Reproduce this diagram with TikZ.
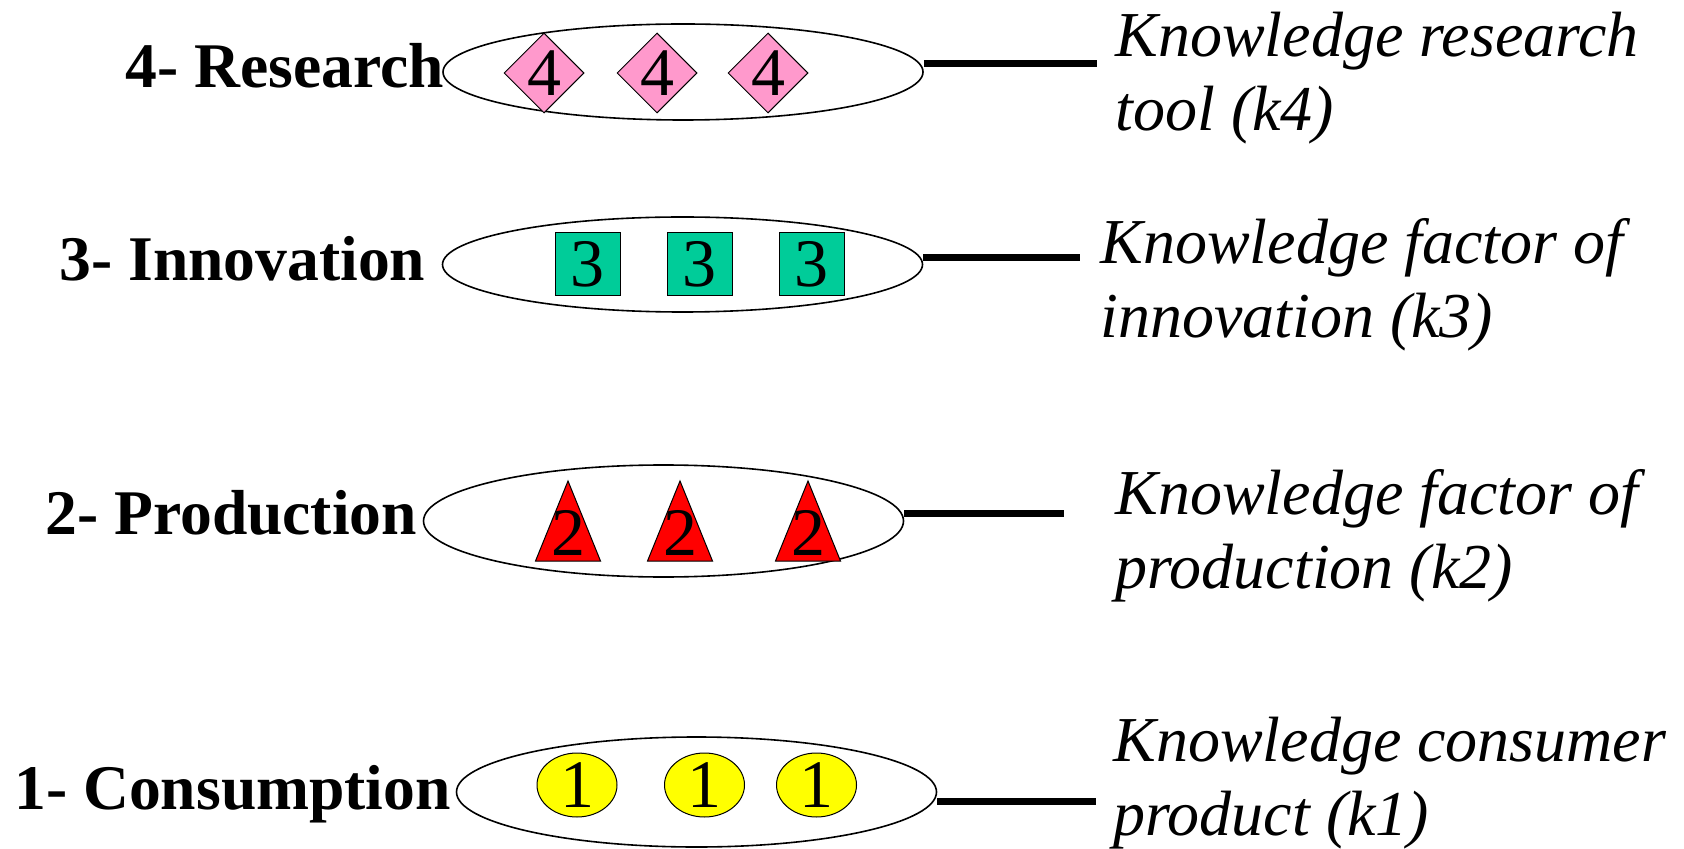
\documentclass[tikz,border=0pt]{standalone}
\usepackage{fontspec}
\setmainfont{Liberation Serif}
\usetikzlibrary{shapes.geometric}
\definecolor{diapink}{HTML}{FF99CC}
\definecolor{sqteal}{HTML}{00CC99}
\definecolor{trired}{HTML}{FF0000}
\definecolor{dotyellow}{HTML}{FFFF00}
\begin{document}
\begin{tikzpicture}[x=0.5pt,y=-0.5pt,
  level/.style={ellipse, draw, line width=0.8pt, inner sep=0pt, minimum width=240pt},
  stage/.style={anchor=base west, inner sep=0pt, font=\fontsize{31.8}{37}\selectfont\bfseries},
  role/.style={anchor=base west, inner sep=0pt, font=\fontsize{32}{37}\selectfont\itshape},
  digit/.style={font=\fontsize{34}{36}\selectfont, inner sep=0pt},
  dia/.style={diamond, draw, line width=0.5pt, fill=diapink, minimum width=40pt, minimum height=40pt, inner sep=0pt},
  sq/.style={rectangle, draw, line width=0.5pt, fill=sqteal, minimum width=32.5pt, minimum height=31.5pt, inner sep=0pt},
  tri/.style={draw, line width=0.5pt, fill=trired, line join=miter},
  dot/.style={ellipse, draw, line width=0.5pt, fill=dotyellow, minimum width=40pt, minimum height=32pt, inner sep=0pt},
  link/.style={line width=3.5pt}
]
\useasboundingbox (0,0) rectangle (1684,849);

% ---- level 4: research ----
\node[level, minimum height=48pt] (e4) at (683,72) {};
\node[dia, label={[digit]center:4}] (d41) at (544,73) {};
\node[dia, label={[digit]center:4}] (d42) at (657,73) {};
\node[dia, label={[digit]center:4}] (d43) at (768,73) {};
\node[stage] (s4) at (125,88) {4- Research};
\node[role] (r4) at (1115,57) {\begin{tabular}[t]{@{}l@{}}Knowledge research\\tool (k4)\end{tabular}};
\coordinate (c4) at (1097,64);
\draw[link] (e4.east |- c4) -- (c4);

% ---- level 3: innovation ----
\node[level, minimum height=47.5pt] (e3) at (682.5,264.5) {};
\node[sq, label={[digit]center:3}] (q31) at (587.5,264.5) {};
\node[sq, label={[digit]center:3}] (q32) at (699.5,264.5) {};
\node[sq, label={[digit]center:3}] (q33) at (811.5,264.5) {};
\node[stage] (s3) at (59,281) {3- Innovation};
\node[role] (r3) at (1100,264) {\begin{tabular}[t]{@{}l@{}}Knowledge factor of\\innovation (k3)\end{tabular}};
\coordinate (c3) at (1080,258);
\draw[link] (e3.east |- c3) -- (c3);

% ---- level 2: production ----
\node[level, minimum height=56pt] (e2) at (663.5,521) {};
\draw[tri] (568,481) -- (600.5,561) -- (535.5,561) -- cycle;
\draw[tri] (680,481) -- (712.5,561) -- (647.5,561) -- cycle;
\draw[tri] (808,481) -- (840.5,561) -- (775.5,561) -- cycle;
\node[digit] (t21) at (568,533) {2};
\node[digit] (t22) at (680,533) {2};
\node[digit] (t23) at (808,533) {2};
\node[stage] (s2) at (45,534) {2- Production};
\node[role] (r2) at (1115,514) {\begin{tabular}[t]{@{}l@{}}Knowledge factor of\\production (k2)\end{tabular}};
\coordinate (c2) at (1064,513);
\draw[link] (e2.east |- c2) -- (c2);

% ---- level 1: consumption ----
\node[level, minimum height=55pt] (e1) at (696.5,792) {};
\node[dot, label={[digit]center:1}] (o11) at (577,785) {};
\node[dot, label={[digit]center:1}] (o12) at (704.5,785) {};
\node[dot, label={[digit]center:1}] (o13) at (816.5,785) {};
\node[stage] (s1) at (14,809) {1- Consumption};
\node[role] (r1) at (1113,761) {\begin{tabular}[t]{@{}l@{}}Knowledge consumer\\product (k1)\end{tabular}};
\coordinate (c1) at (1096,801);
\draw[link] (e1.east |- c1) -- (c1);
\end{tikzpicture}
\end{document}
